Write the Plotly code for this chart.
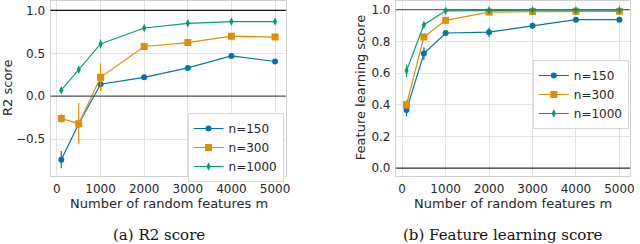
import plotly.graph_objects as go

m_values = [100, 500, 1000, 2000, 3000, 4000, 5000]
x_ticks = [0, 1000, 2000, 3000, 4000, 5000]
series_names = ["n=150", "n=300", "n=1000"]

# Panel (a): R2 score
r2_n150 = [-0.74, -0.32, 0.14, 0.22, 0.33, 0.47, 0.405]
r2_n150_err = [0.10, 0.05, 0.08, 0.02, 0.02, 0.02, 0.03]
r2_n300 = [-0.26, -0.32, 0.22, 0.58, 0.625, 0.70, 0.69]
r2_n300_err = [0.05, 0.24, 0.16, 0.02, 0.04, 0.02, 0.02]
r2_n1000 = [0.07, 0.31, 0.61, 0.795, 0.85, 0.87, 0.87]
r2_n1000_err = [0.02, 0.04, 0.05, 0.02, 0.02, 0.02, 0.02]
r2_yticks = [-0.5, 0.0, 0.5, 1.0]

# Panel (b): Feature learning score
fl_n150 = [0.367, 0.723, 0.853, 0.858, 0.898, 0.937, 0.937]
fl_n150_err = [0.04, 0.04, 0.01, 0.03, 0.02, 0.01, 0.01]
fl_n300 = [0.40, 0.828, 0.933, 0.985, 0.988, 0.99, 0.99]
fl_n300_err = [0.03, 0.02, 0.02, 0.01, 0.01, 0.01, 0.01]
fl_n1000 = [0.614, 0.905, 0.993, 0.997, 0.997, 0.997, 0.997]
fl_n1000_err = [0.04, 0.01, 0.01, 0.01, 0.01, 0.01, 0.01]
fl_yticks = [0.0, 0.2, 0.4, 0.6, 0.8, 1.0]

colors = ["#0173b2", "#de8f05", "#029e73"]
symbols = ["circle", "square", "diamond-tall"]
msizes = [6, 7, 6]

W, H = 640, 244
def px(x): return x / W
def py(y): return 1 - y / H

fig = go.Figure()
panel_a = [(r2_n150, r2_n150_err), (r2_n300, r2_n300_err), (r2_n1000, r2_n1000_err)]
panel_b = [(fl_n150, fl_n150_err), (fl_n300, fl_n300_err), (fl_n1000, fl_n1000_err)]
for i, (vals, errs) in enumerate(panel_a):
    fig.add_trace(go.Scatter(x=m_values, y=vals, mode="lines+markers", name=series_names[i],
                             line=dict(color=colors[i], width=1.2),
                             marker=dict(symbol=symbols[i], size=msizes[i], color=colors[i]),
                             error_y=dict(type="data", array=errs, color=colors[i], thickness=1.2, width=0),
                             xaxis="x", yaxis="y", legend="legend"))
for i, (vals, errs) in enumerate(panel_b):
    fig.add_trace(go.Scatter(x=m_values, y=vals, mode="lines+markers", name=series_names[i],
                             line=dict(color=colors[i], width=1.2),
                             marker=dict(symbol=symbols[i], size=msizes[i], color=colors[i]),
                             error_y=dict(type="data", array=errs, color=colors[i], thickness=1.2, width=0),
                             xaxis="x2", yaxis="y2", legend="legend2"))

font = dict(family="DejaVu Sans", size=13, color="#262626")
tfont = dict(family="DejaVu Sans", size=12, color="#262626")
lfont = dict(family="DejaVu Sans", size=12, color="#262626")
axis_common = dict(showgrid=True, gridcolor="#e3e3e3", gridwidth=1, zeroline=False,
                   showline=True, linecolor="#d0d0d0", linewidth=1, mirror=True,
                   ticks="outside", ticklen=2, tickcolor="rgba(0,0,0,0)",
                   tickfont=tfont)

y_top, y_bot = 1, 176
fig.update_layout(
    width=W, height=H, margin=dict(l=0, r=0, t=0, b=0),
    paper_bgcolor="white", plot_bgcolor="white", font=font,
    xaxis=dict(domain=[px(51), px(288)], range=[-145, 5245], tickvals=x_ticks, anchor="y", **axis_common),
    yaxis=dict(domain=[py(y_bot), py(y_top)], range=[-0.93, 1.11], tickvals=r2_yticks, tickformat=".1f", anchor="x", **axis_common),
    xaxis2=dict(domain=[px(399), px(635)], range=[-145, 5245], tickvals=x_ticks, anchor="y2", **axis_common),
    yaxis2=dict(domain=[py(y_bot), py(y_top)], range=[-0.05, 1.055], tickvals=fl_yticks, tickformat=".1f", anchor="x2", **axis_common),
    legend=dict(x=px(189), y=py(113), xanchor="left", yanchor="top", bgcolor="white",
                bordercolor="#d8d8d8", borderwidth=1, font=lfont, tracegroupgap=0, itemwidth=30),
    legend2=dict(x=px(537), y=py(60), xanchor="left", yanchor="top", bgcolor="white",
                 bordercolor="#d8d8d8", borderwidth=1, font=lfont, tracegroupgap=0, itemwidth=30),
    showlegend=True,
)

shapes = [
    dict(type="line", xref="x domain", yref="y", x0=0, x1=1, y0=1.0, y1=1.0, line=dict(color="#111111", width=1.3)),
    dict(type="line", xref="x domain", yref="y", x0=0, x1=1, y0=0.0, y1=0.0, line=dict(color="#555555", width=1.3)),
    dict(type="line", xref="x2 domain", yref="y2", x0=0, x1=1, y0=1.0, y1=1.0, line=dict(color="#666666", width=1.3)),
    dict(type="line", xref="x2 domain", yref="y2", x0=0, x1=1, y0=0.0, y1=0.0, line=dict(color="#333333", width=1.3)),
]
fig.update_layout(shapes=shapes)

annots = [
    dict(text="R2 score", x=px(8), y=py(88), textangle=-90),
    dict(text="Feature learning score", x=px(364), y=py(88), textangle=-90),
    dict(text="Number of random features m", x=px(170), y=py(203)),
    dict(text="Number of random features m", x=px(517), y=py(203)),
]
for a in annots:
    fig.add_annotation(xref="paper", yref="paper", showarrow=False, xanchor="center", yanchor="middle",
                       font=font, **a)
cap_font = dict(family="DejaVu Serif", size=15, color="#111111")
fig.add_annotation(text="(a) R2 score", x=px(160), y=py(235), xref="paper", yref="paper",
                   showarrow=False, xanchor="center", yanchor="middle", font=cap_font)
fig.add_annotation(text="(b) Feature learning score", x=px(507), y=py(235), xref="paper", yref="paper",
                   showarrow=False, xanchor="center", yanchor="middle", font=cap_font)

fig.write_html("out.html", config={"displayModeBar": False},
               post_script="document.body.style.margin='0';document.body.style.padding='0';")
